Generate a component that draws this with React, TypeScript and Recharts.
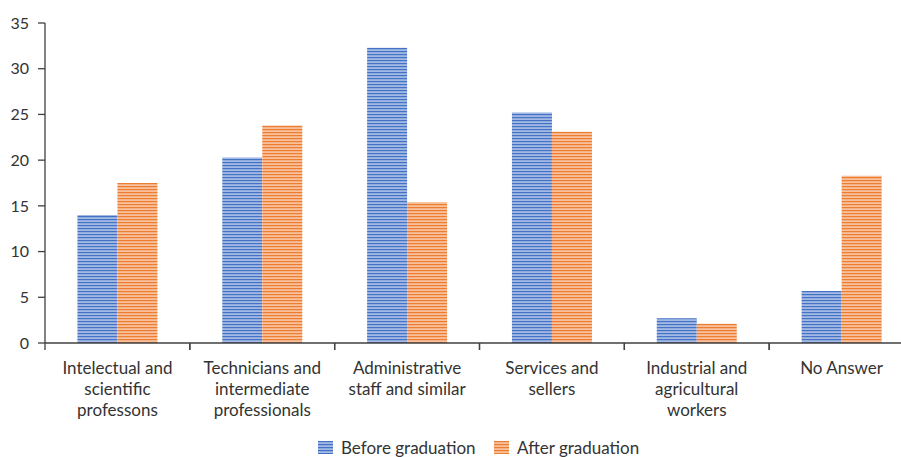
import React from "react";
import { BarChart, Bar, XAxis, YAxis } from "recharts";

const categories = [
  "Intelectual and|scientific|professons",
  "Technicians and|intermediate|professionals",
  "Administrative|staff and similar",
  "Services and|sellers",
  "Industrial and|agricultural|workers",
  "No Answer",
];
const beforeGraduation = [14.0, 20.3, 32.3, 25.2, 2.7, 5.7];
const afterGraduation = [17.5, 23.8, 15.4, 23.1, 2.1, 18.3];
const yTicks = [0, 5, 10, 15, 20, 25, 30, 35];

const data = categories.map((c, i) => ({
  name: c,
  before: beforeGraduation[i],
  after: afterGraduation[i],
}));

const FONT = "Lato, 'Open Sans', sans-serif";
const AXIS = "#404040";

function CategoryTick(props: any) {
  const { x, y, payload, width } = props;
  const step = (width || 870) / categories.length;
  const lines = String(payload.value).split("|");
  const axisY = y - 10;
  return (
    <g>
      <line x1={x - step / 2} x2={x - step / 2} y1={axisY} y2={axisY + 7} stroke={AXIS} strokeWidth={1.3} />
      <line x1={x + step / 2} x2={x + step / 2} y1={axisY} y2={axisY + 7} stroke={AXIS} strokeWidth={1.3} />
      <text x={x} y={axisY + 31} textAnchor="middle" fill="#333" fontSize={17} fontFamily={FONT}>
        {lines.map((l, i) => (
          <tspan key={i} x={x} dy={i === 0 ? 0 : 21}>
            {l}
          </tspan>
        ))}
      </text>
    </g>
  );
}

function LegendSwatch({ x, y, fill }: { x: number; y: number; fill: string }) {
  return <rect x={x} y={y} width={15} height={13} fill={fill} />;
}

export default function App() {
  return (
    <div style={{ position: "absolute", left: 0, top: 0, width: 901, height: 457, overflow: "hidden", background: "#fff" }}>
      <BarChart
        width={930}
        height={457}
        data={data}
        margin={{ top: 23, right: 16, left: 0, bottom: 0 }}
        barCategoryGap="22.4%"
        barGap={0}
      >
        <defs>
          <pattern id="stripeBlue" width={6} height={3} patternUnits="userSpaceOnUse">
            <rect width={6} height={3} fill="#a3b9e4" />
            <rect width={6} height={1.2} fill="#4472c4" />
          </pattern>
          <pattern id="stripeOrange" width={6} height={3} patternUnits="userSpaceOnUse">
            <rect width={6} height={3} fill="#f8c09b" />
            <rect width={6} height={1.2} fill="#ed7d31" />
          </pattern>
        </defs>
        <XAxis
          dataKey="name"
          interval={0}
          tickLine={false}
          axisLine={{ stroke: AXIS, strokeWidth: 1.3 }}
          tick={<CategoryTick />}
          tickSize={0}
          tickMargin={10}
          height={114}
        />
        <YAxis
          domain={[0, 35]}
          ticks={yTicks}
          width={45}
          tickSize={7}
          tickMargin={9}
          axisLine={{ stroke: AXIS, strokeWidth: 1.3 }}
          tickLine={{ stroke: AXIS, strokeWidth: 1.3 }}
          tick={{ fill: "#333", fontSize: 16, fontFamily: FONT }}
        />
        <Bar dataKey="before" name="Before graduation" fill="url(#stripeBlue)" isAnimationActive={false} />
        <Bar dataKey="after" name="After graduation" fill="url(#stripeOrange)" isAnimationActive={false} />
        <g>
          <LegendSwatch x={318} y={441} fill="url(#stripeBlue)" />
          <text x={341} y={454} fontSize={17} fontFamily={FONT} fill="#333">
            Before graduation
          </text>
          <LegendSwatch x={494} y={441} fill="url(#stripeOrange)" />
          <text x={517} y={454} fontSize={17} fontFamily={FONT} fill="#333">
            After graduation
          </text>
        </g>
      </BarChart>
    </div>
  );
}
